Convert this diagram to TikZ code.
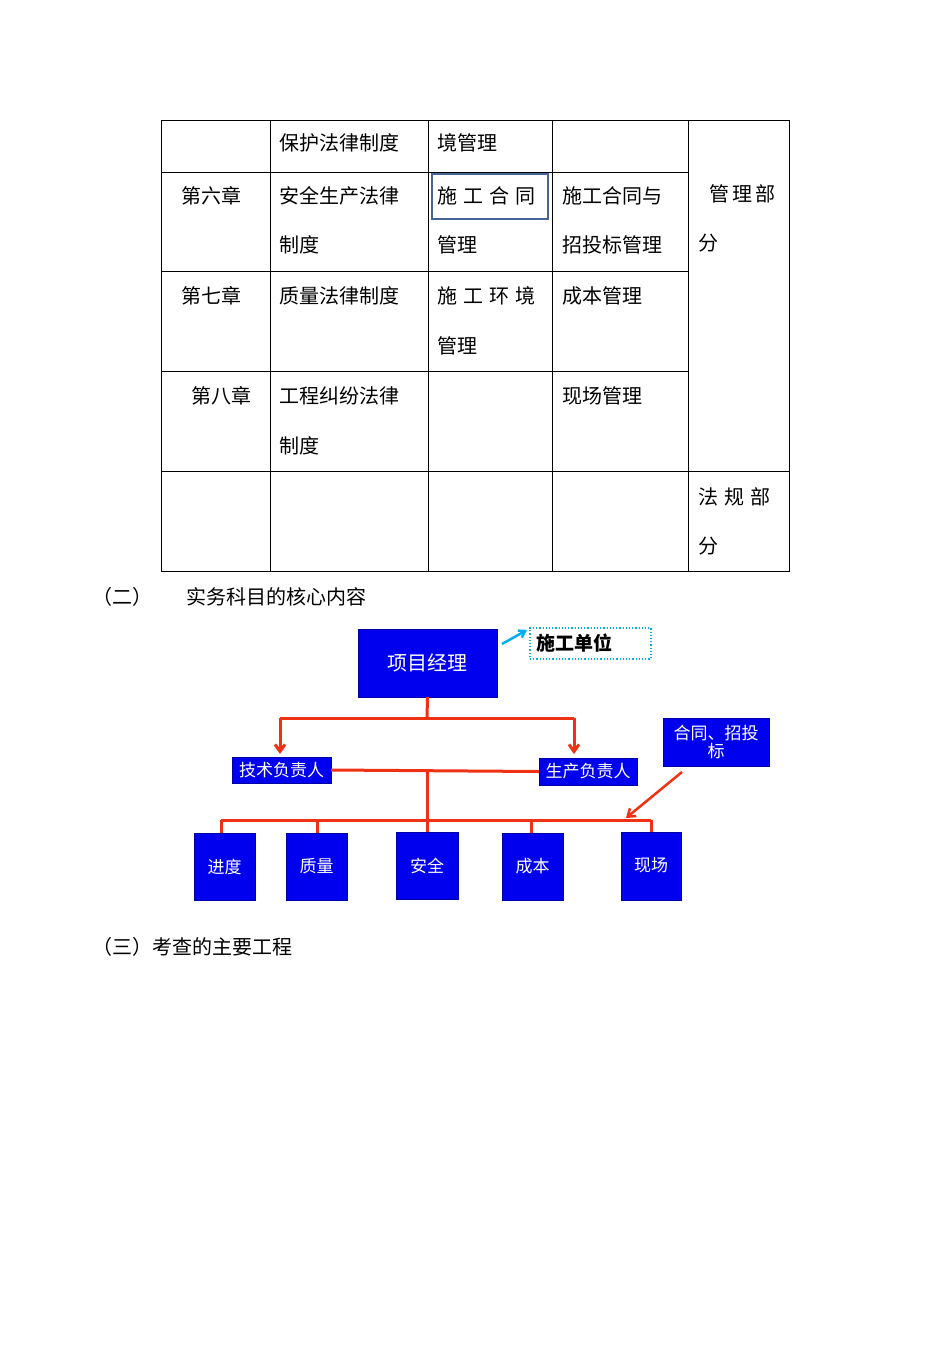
\documentclass[tikz,border=0pt]{standalone}
\usepackage{fontspec}
\newfontfamily\cjk{Noto Sans CJK SC}
\usetikzlibrary{arrows.meta}
\definecolor{bx}{RGB}{0,0,238}
\definecolor{rd}{RGB}{240,50,20}
\definecolor{hl}{RGB}{70,100,150}
\newcommand{\gp}{\hspace{6pt}}
\begin{document}
\begin{tikzpicture}[x=1pt,y=-1pt,
  tt/.style={anchor=west,inner sep=0,font=\cjk\fontsize{20}{22}\selectfont},
  bb/.style={fill=bx,draw=bx!70!black,text=white,font=\cjk\fontsize{17}{19}\selectfont,inner sep=0,align=center},
  rl/.style={draw=rd,line width=3pt},
  ra/.style={rl,-{Straight Barb[length=7pt,width=10pt]}}]
\useasboundingbox (0,0) rectangle (950,1345);
\fill[white] (0,0) rectangle (950,1345);
% table
\draw[line width=0.7pt] (161,120) rectangle (789,571);
\foreach \x in {270,428,552,688} \draw[line width=0.7pt] (\x,120) -- (\x,571);
\foreach \y in {172,271,371} \draw[line width=0.7pt] (161,\y) -- (688,\y);
\draw[line width=0.7pt] (161,471) -- (789,471);
\draw[hl,line width=2.5pt] (432,174) rectangle (548,219);
\node[tt] (a1) at (279,143) {保护法律制度};
\node[tt] (a2) at (437,143) {境管理};
\node[tt] (b0) at (181,196) {第六章};
\node[tt] (b1) at (279,196) {安全生产法律};
\node[tt] (b1b) at (279,245) {制度};
\node[tt] (b2) at (437,196) {施\gp 工\gp 合\gp 同};
\node[tt] (b2b) at (437,245) {管理};
\node[tt] (b3) at (562,196) {施工合同与};
\node[tt] (b3b) at (562,245) {招投标管理};
\node[tt] (m1) at (709,194) {管\,理\,部};
\node[tt] (m2) at (698,243) {分};
\node[tt] (c0) at (181,296) {第七章};
\node[tt] (c1) at (279,296) {质量法律制度};
\node[tt] (c2) at (437,296) {施\gp 工\gp 环\gp 境};
\node[tt] (c2b) at (437,346) {管理};
\node[tt] (c3) at (562,296) {成本管理};
\node[tt] (d0) at (191,396) {第八章};
\node[tt] (d1) at (279,396) {工程纠纷法律};
\node[tt] (d1b) at (279,446) {制度};
\node[tt] (d3) at (562,396) {现场管理};
\node[tt] (f1) at (698,497) {法\gp 规\gp 部};
\node[tt] (f2) at (698,546) {分};
\node[tt] (h2) at (92,597) {（二）};
\node[tt] (h2b) at (186,597) {实务科目的核心内容};
\node[tt] (h3) at (92,947) {（三）考查的主要工程};
% diagram
\node[bb,minimum width=139,minimum height=68] (pm) at (427.5,663) {\fontsize{20}{22}\selectfont 项目经理};
\node[draw=cyan,dotted,line width=1.2pt,minimum width=121,minimum height=31,inner sep=0] (sg) at (590.5,643.5) {};
\node[anchor=west,inner sep=0,font=\cjk\bfseries\fontsize{19}{21}\selectfont] (sgt) at (536,643) {施工单位};
\draw[cyan,line width=2.5pt,-{Straight Barb[length=6pt,width=8pt]}] (502,644) -- (527,630);
\node[bb,minimum width=99,minimum height=26] (js) at (281.5,770) {技术负责人};
\node[bb,minimum width=98,minimum height=27] (sc) at (588,771.5) {生产负责人};
\node[bb,minimum width=106,minimum height=48] (ht) at (716,742) {合同、招投\\[-1pt]标};
\node[bb,minimum width=61,minimum height=67] (k1) at (224.5,866.5) {进度};
\node[bb,minimum width=61,minimum height=67] (k2) at (316.5,866.5) {质量};
\node[bb,minimum width=62,minimum height=67] (k3) at (427,865.5) {\raisebox{-3pt}{安全}};
\node[bb,minimum width=61,minimum height=67] (k4) at (532.5,866.5) {成本};
\node[bb,minimum width=60,minimum height=68] (k5) at (651,866) {\raisebox{3pt}{现场}};
\coordinate (t1) at (427,718);
\draw[rl] (pm.south) -- (t1);
\draw[rl] (280,718) -- (574,718);
\draw[ra] (280,718) -- (280,754);
\draw[ra] (574,718) -- (574,754);
\draw[rl] (js.east) -- (sc.west);
\draw[rl] (427,770) -- (k3.north);
\draw[rl] (221,820) -- (651,820);
\draw[rl] (221,820) -- (221,833);
\draw[rl] (317,820) -- (317,833);
\draw[rl] (531,820) -- (531,833);
\draw[rl] (651,820) -- (k5.north);
\draw[ra,line width=2.5pt] (682,772) -- (626,818);
\end{tikzpicture}
\end{document}
